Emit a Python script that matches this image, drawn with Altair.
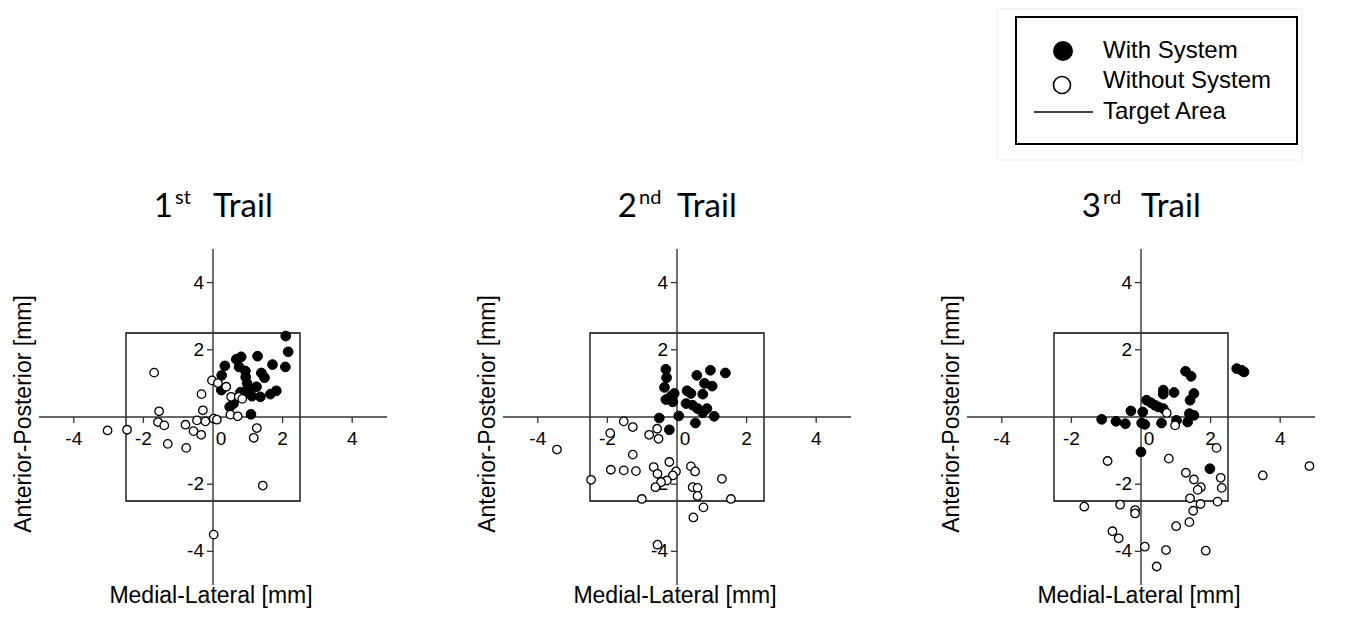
import altair as alt
import pandas as pd

# ---------------- data (mm) ----------------
TRIAL_NUMBERS = ["1", "2", "3"]
TRIAL_SUFFIX = ["st", "nd", "rd"]
TRIAL_WORD = "Trail"
X_TITLE = "Medial-Lateral [mm]"
Y_TITLE = "Anterior-Posterior [mm]"
LEGEND_LABELS = ["With System", "Without System", "Target Area"]

TARGET = [-2.5, 2.5]
AXIS_EXTENT = [-5, 5]
TICKS = [-4, -2, 2, 4]
TICK_LABELS = ["-4", "-2", "2", "4"]
ZERO_LABEL = "0"

T1_WITH_X = [2.09, 2.16, 2.08, 1.71, 1.28, 0.81, 0.67, 0.34, 0.25, 0.75, 0.93, 0.94, 1.39, 1.48,
             0.24, 0.98, 1.05, 1.25, 1.12, 1.36, 1.65, 1.82, 0.79, 0.93, 0.48, 0.59, 1.09]
T1_WITH_Y = [2.41, 1.94, 1.49, 1.56, 1.81, 1.79, 1.72, 1.52, 1.24, 1.49, 1.37, 1.19, 1.31, 1.17,
             0.80, 1.00, 0.85, 0.90, 0.62, 0.60, 0.68, 0.78, 0.74, 0.75, 0.30, 0.40, 0.08]
T1_WITHOUT_X = [-1.69, -0.03, 0.14, 0.38, -0.33, 0.52, 0.74, 0.84, -1.55, -0.29, -1.58, -1.40,
                -0.79, -0.46, -0.22, 0.02, 0.11, 0.50, 0.71, -0.56, -0.34, -1.30, -0.77, -3.03,
                -2.47, 1.26, 1.17, 1.43, 0.02]
T1_WITHOUT_Y = [1.32, 1.09, 1.01, 0.90, 0.68, 0.60, 0.60, 0.54, 0.17, 0.20, -0.15, -0.25,
                -0.23, -0.10, -0.13, -0.05, -0.08, 0.07, 0.02, -0.42, -0.53, -0.80, -0.92, -0.40,
                -0.38, -0.33, -0.62, -2.04, -3.50]

T2_WITH_X = [-0.32, -0.30, -0.36, -0.32, -0.17, -0.08, -0.12, 0.29, 0.40, 0.26, 0.57, 0.96, 1.39,
             0.79, 1.01, 0.74, 0.45, 0.59, 0.86, 0.74, 1.07, 0.05, -0.51, -0.22, 0.53]
T2_WITH_Y = [1.42, 1.17, 0.88, 0.52, 0.62, 0.70, 0.45, 0.78, 0.70, 0.40, 1.24, 1.39, 1.31,
             1.00, 0.92, 0.68, 0.35, 0.25, 0.25, 0.13, 0.02, 0.03, -0.03, -0.38, -0.18]
T2_WITHOUT_X = [-3.45, -1.53, -1.27, -1.92, -0.80, -0.57, -0.53, -1.27, -1.90, -1.53, -1.18,
                -0.67, -0.56, -0.22, -0.03, -0.12, -0.29, -0.46, -0.62, 0.40, 0.52, -2.47,
                -1.01, 0.45, 0.59, 0.59, 0.76, 0.47, 1.29, 1.55, -0.56]
T2_WITHOUT_Y = [-0.97, -0.13, -0.30, -0.48, -0.53, -0.35, -0.65, -1.12, -1.57, -1.59, -1.61,
                -1.49, -1.69, -1.34, -1.62, -1.74, -1.89, -1.94, -2.09, -1.47, -1.62, -1.87,
                -2.44, -2.09, -2.11, -2.35, -2.69, -2.99, -1.84, -2.44, -3.80]

T3_WITH_X = [2.75, 2.89, 2.96, 1.28, 1.44, 1.52, 1.41, 0.64, 0.64, 0.95, 0.16, 0.29, 0.40, 0.50,
             0.64, -0.29, 0.05, 1.39, 1.52, -1.13, -0.72, -0.45, 0.02, 0.11, 0.59, 1.02, 1.34,
             0.00, 1.98]
T3_WITH_Y = [1.44, 1.39, 1.34, 1.36, 1.21, 0.70, 0.50, 0.80, 0.68, 0.73, 0.50, 0.42, 0.35, 0.30,
             0.25, 0.18, 0.15, 0.10, 0.05, -0.07, -0.13, -0.20, -0.18, -0.22, -0.18, -0.10, -0.15,
             -1.04, -1.54]
T3_WITHOUT_X = [0.74, 0.98, -0.96, 0.80, 2.17, 1.29, 1.52, 1.72, 1.63, 2.29, 2.32, 1.41, 1.71,
                1.50, 2.20, 1.39, 1.01, -1.63, -0.60, -0.17, -0.17, -0.82, -0.64, 0.11, 0.72,
                0.45, 1.86, 3.50, 4.84]
T3_WITHOUT_Y = [0.12, -0.25, -1.31, -1.24, -0.92, -1.66, -1.86, -2.09, -2.17, -1.81, -2.11,
                -2.42, -2.59, -2.79, -2.52, -3.13, -3.25, -2.67, -2.61, -2.77, -2.87, -3.40,
                -3.61, -3.86, -3.96, -4.45, -3.98, -1.74, -1.46]

# ---------------- layout / style ----------------
PANEL_W, PANEL_H = 390, 600
XS = alt.Scale(domain=[-5.891, 5.316], nice=False, zero=False)
YS = alt.Scale(domain=[-5.685, 12.173], nice=False, zero=False)
CX = 205          # pixel of x = 0 inside a panel
AX_COL = "#333333"
SANS = "Liberation Sans"
TITLE_FONT = "Lato"
TICK_FS = 19


def xq(field):
    return alt.X(field, type="quantitative", scale=XS, axis=None)


def yq(field):
    return alt.Y(field, type="quantitative", scale=YS, axis=None)


ONE = pd.DataFrame({"d": [0]})


def panel(k, wx, wy, ox, oy, legend=False):
    target = pd.DataFrame({"lo": [TARGET[0]], "hi": [TARGET[1]]})
    extent = pd.DataFrame({"lo": [AXIS_EXTENT[0]], "hi": [AXIS_EXTENT[1]], "zero": [0.0]})
    ticks = pd.DataFrame({"t": TICKS, "lbl": TICK_LABELS, "zero": 0.0})
    zero_lbl = pd.DataFrame({"t": [0.0], "lbl": [ZERO_LABEL], "zero": [0.0]})
    with_df = pd.DataFrame({"x": wx, "y": wy})
    without_df = pd.DataFrame({"x": ox, "y": oy})

    layers = []
    layers.append(alt.Chart(target).mark_rect(filled=False, stroke="black", strokeWidth=1.3).encode(
        x=xq("lo"), x2="hi", y=yq("lo"), y2="hi"))
    layers.append(alt.Chart(extent).mark_rule(color=AX_COL, strokeWidth=1.4).encode(
        x=xq("lo"), x2="hi", y=yq("zero")))
    layers.append(alt.Chart(extent).mark_rule(color=AX_COL, strokeWidth=1.4).encode(
        x=xq("zero"), y=yq("lo"), y2="hi"))
    layers.append(alt.Chart(ticks).mark_tick(orient="vertical", size=6, thickness=1.3, yOffset=3,
                                             color=AX_COL, opacity=1).encode(x=xq("t"), y=yq("zero")))
    layers.append(alt.Chart(ticks).mark_tick(orient="horizontal", size=6, thickness=1.3, xOffset=-3,
                                             color=AX_COL, opacity=1).encode(x=xq("zero"), y=yq("t")))
    layers.append(alt.Chart(ticks).mark_text(font=SANS, fontSize=TICK_FS, color="black", align="center",
                                             baseline="alphabetic", dy=28).encode(
        x=xq("t"), y=yq("zero"), text="lbl:N"))
    layers.append(alt.Chart(zero_lbl).mark_text(font=SANS, fontSize=TICK_FS, color="black", align="center",
                                                baseline="alphabetic", dy=28, dx=8).encode(
        x=xq("t"), y=yq("zero"), text="lbl:N"))
    layers.append(alt.Chart(ticks).mark_text(font=SANS, fontSize=TICK_FS, color="black", align="right",
                                             baseline="middle", dx=-9).encode(
        x=xq("zero"), y=yq("t"), text="lbl:N"))
    # points
    layers.append(alt.Chart(with_df).mark_point(shape="circle", filled=True, fill="black", stroke="black",
                                                strokeWidth=1, size=95, opacity=1).encode(
        x=xq("x"), y=yq("y")))
    layers.append(alt.Chart(without_df).mark_point(shape="circle", filled=True, fill="white", stroke="black",
                                                   strokeWidth=1.3, size=72, opacity=1).encode(
        x=xq("x"), y=yq("y")))
    # panel title  e.g. 1st Trail
    layers.append(alt.Chart(ONE).mark_text(font=TITLE_FONT, fontSize=33, color="black", align="right",
                                           baseline="alphabetic").encode(
        x=alt.value(CX - 40), y=alt.value(209), text=alt.value(TRIAL_NUMBERS[k])))
    layers.append(alt.Chart(ONE).mark_text(font=TITLE_FONT, fontSize=20, color="black", align="left",
                                           baseline="alphabetic").encode(
        x=alt.value(CX - 38), y=alt.value(196), text=alt.value(TRIAL_SUFFIX[k])))
    layers.append(alt.Chart(ONE).mark_text(font=TITLE_FONT, fontSize=33, color="black", align="left",
                                           baseline="alphabetic").encode(
        x=alt.value(CX), y=alt.value(209), text=alt.value(TRIAL_WORD)))
    # axis titles
    layers.append(alt.Chart(ONE).mark_text(font=SANS, fontSize=23, color="black", align="center",
                                           baseline="alphabetic").encode(
        x=alt.value(CX - 2), y=alt.value(595), text=alt.value(X_TITLE)))
    layers.append(alt.Chart(ONE).mark_text(font=SANS, fontSize=23, color="black", align="center",
                                           baseline="middle", angle=270).encode(
        x=alt.value(16), y=alt.value(406), text=alt.value(Y_TITLE)))

    if legend:
        layers.append(alt.Chart(ONE).mark_rect(filled=False, stroke="#ebebeb", strokeWidth=1).encode(
            x=alt.value(61), x2=alt.value(366), y=alt.value(1), y2=alt.value(152)))
        layers.append(alt.Chart(ONE).mark_rect(filled=False, stroke="black", strokeWidth=2).encode(
            x=alt.value(80), x2=alt.value(361), y=alt.value(9), y2=alt.value(136)))
        layers.append(alt.Chart(ONE).mark_point(shape="circle", filled=True, fill="black", opacity=1,
                                                size=400).encode(x=alt.value(127), y=alt.value(43)))
        layers.append(alt.Chart(ONE).mark_point(shape="circle", filled=True, fill="white", stroke="black",
                                                strokeWidth=1.6, opacity=1, size=290).encode(
            x=alt.value(126), y=alt.value(77)))
        layers.append(alt.Chart(ONE).mark_rule(color="black", strokeWidth=1.5).encode(
            x=alt.value(98), x2=alt.value(157), y=alt.value(104)))
        for label, base in zip(LEGEND_LABELS, [50, 80, 111]):
            layers.append(alt.Chart(ONE).mark_text(font=SANS, fontSize=24, color="black", align="left",
                                                   baseline="alphabetic").encode(
                x=alt.value(167), y=alt.value(base), text=alt.value(label)))

    return alt.layer(*layers).properties(width=PANEL_W, height=PANEL_H)


p1 = panel(0, T1_WITH_X, T1_WITH_Y, T1_WITHOUT_X, T1_WITHOUT_Y)
p2 = panel(1, T2_WITH_X, T2_WITH_Y, T2_WITHOUT_X, T2_WITHOUT_Y)
p3 = panel(2, T3_WITH_X, T3_WITH_Y, T3_WITHOUT_X, T3_WITHOUT_Y, legend=True)

chart = alt.hconcat(p1, p2, p3, spacing=74).properties(padding=0).configure_view(strokeWidth=0)

chart.save("out.html", embed_options={"renderer": "svg", "actions": False})
